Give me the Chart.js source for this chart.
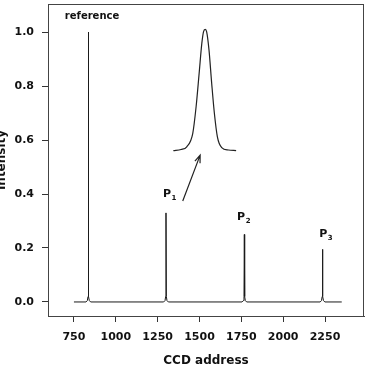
<!DOCTYPE html>
<html>
<head>
<meta charset="utf-8">
<script src="https://cdn.jsdelivr.net/npm/chart.js@4"></script>
<style>
  html, body { margin: 0; padding: 0; background: #fff; }
  #wrap { width: 376px; height: 370px; }
</style>
</head>
<body>
<div id="wrap"><canvas id="chart"></canvas></div>
<script>
// ticks
const xTicks = [750, 1000, 1250, 1500, 1750, 2000, 2250];
const yTicks = [0.0, 0.2, 0.4, 0.6, 0.8, 1.0];

// spectrum (CCD address vs intensity)
const specX = [750, 822, 830, 834, 836, 838, 842, 850,
               1286, 1294, 1298, 1300, 1302, 1306, 1314,
               1754, 1762, 1766, 1768, 1770, 1774, 1782,
               2221, 2229, 2233, 2235, 2237, 2241, 2249, 2350];
const specY = [0.0, 0.0, 0.005, 0.02, 1.0, 0.02, 0.005, 0.0,
               0.0, 0.005, 0.02, 0.33, 0.02, 0.005, 0.0,
               0.0, 0.005, 0.02, 0.25, 0.02, 0.005, 0.0,
               0.0, 0.005, 0.02, 0.195, 0.02, 0.005, 0.0, 0.0];

// magnified peak drawn inside the plot
const insetX = [1344, 1390, 1424, 1460, 1480, 1498, 1514, 1524, 1534, 1543, 1557, 1573, 1589, 1607, 1633, 1673, 1719];
const insetY = [0.561, 0.565, 0.575, 0.625, 0.724, 0.847, 0.958, 1.001, 1.010, 1.001, 0.933, 0.810, 0.699, 0.612, 0.572, 0.563, 0.561];

// arrow pointing to the inset
const arrowFrom = [1400, 0.374];
const arrowTo = [1504, 0.544];

// annotations
const noteText = ['reference', 'P', 'P', 'P'];
const noteSub = ['', '1', '2', '3'];
const noteX = [858, 1306, 1749, 2239];
const noteY = [1.059, 0.40, 0.315, 0.252];

const FONT = '"DejaVu Sans", sans-serif';

const frame = {
    id: 'frame',
    afterDraw(chart) {
        const { ctx, chartArea: a, scales: { x, y } } = chart;
        ctx.save();
        ctx.strokeStyle = '#444';
        ctx.lineWidth = 1;
        ctx.strokeRect(a.left + 0.5, a.top + 0.5, a.right - a.left - 1, a.bottom - a.top);

        // arrow
        const x0 = x.getPixelForValue(arrowFrom[0]), y0 = y.getPixelForValue(arrowFrom[1]);
        const x1 = x.getPixelForValue(arrowTo[0]), y1 = y.getPixelForValue(arrowTo[1]);
        ctx.strokeStyle = '#222';
        ctx.lineWidth = 1.2;
        ctx.beginPath();
        ctx.moveTo(x0, y0);
        ctx.lineTo(x1, y1);
        const ang = Math.atan2(y1 - y0, x1 - x0);
        const hl = 8;
        ctx.moveTo(x1 - hl * Math.cos(ang - 0.35), y1 - hl * Math.sin(ang - 0.35));
        ctx.lineTo(x1, y1);
        ctx.lineTo(x1 - hl * Math.cos(ang + 0.35), y1 - hl * Math.sin(ang + 0.35));
        ctx.stroke();

        // labels
        ctx.fillStyle = '#111';
        ctx.textBaseline = 'middle';
        ctx.textAlign = 'center';
        noteText.forEach((t, i) => {
            const px = x.getPixelForValue(noteX[i]);
            const py = y.getPixelForValue(noteY[i]);
            ctx.font = 'bold ' + (noteSub[i] ? 11 : 10) + 'px ' + FONT;
            ctx.fillText(t, px, py);
            if (noteSub[i]) {
                const w = ctx.measureText(t).width;
                ctx.font = 'bold 7px ' + FONT;
                ctx.textAlign = 'left';
                ctx.fillText(noteSub[i], px + w / 2 + 0.5, py + 4);
                ctx.textAlign = 'center';
            }
        });
        ctx.restore();
    }
};

const ctx = document.getElementById('chart').getContext('2d');
new Chart(ctx, {
    type: 'line',
    data: {
        datasets: [
            {
                data: specX.map((v, i) => ({ x: v, y: specY[i] })),
                borderColor: '#1a1a1a',
                borderWidth: 1,
                tension: 0,
                pointRadius: 0
            },
            {
                data: insetX.map((v, i) => ({ x: v, y: insetY[i] })),
                borderColor: '#222',
                borderWidth: 1.2,
                cubicInterpolationMode: 'monotone',
                pointRadius: 0
            }
        ]
    },
    options: {
        responsive: true,
        maintainAspectRatio: false,
        animation: false,
        layout: { padding: { top: 4, right: 12, left: 0, bottom: 0 } },
        plugins: { legend: { display: false }, tooltip: { enabled: false } },
        scales: {
            x: {
                type: 'linear',
                min: 595,
                max: 2483,
                afterBuildTicks: s => { s.ticks = xTicks.map(v => ({ value: v })); },
                afterFit: s => { s.height = 54; s.paddingLeft = 0; s.paddingRight = 0; },
                grid: { drawOnChartArea: false, drawTicks: true, tickLength: 6, color: '#333' },
                border: { display: true, color: '#444' },
                ticks: {
                    color: '#111', padding: 9,
                    font: { family: FONT, weight: 'bold', size: 11 },
                    callback: v => String(v)
                },
                title: {
                    display: true, text: 'CCD address', color: '#111',
                    padding: { top: 0, bottom: 2 },
                    font: { family: FONT, weight: 'bold', size: 12 }
                }
            },
            y: {
                type: 'linear',
                min: -0.052,
                max: 1.104,
                afterBuildTicks: s => { s.ticks = yTicks.map(v => ({ value: v })); },
                afterFit: s => { s.width = 48; s.paddingTop = 0; s.paddingBottom = 0; },
                grid: { drawOnChartArea: false, drawTicks: true, tickLength: 6, color: '#333' },
                border: { display: true, color: '#444' },
                ticks: {
                    color: '#111', padding: 8,
                    font: { family: FONT, weight: 'bold', size: 11 },
                    callback: v => v.toFixed(1)
                },
                title: {
                    display: true, text: 'Intensity', color: '#111',
                    padding: { top: -5, bottom: 0 },
                    font: { family: FONT, weight: 'bold', size: 12 }
                }
            }
        }
    },
    plugins: [frame]
});
</script>
</body>
</html>
